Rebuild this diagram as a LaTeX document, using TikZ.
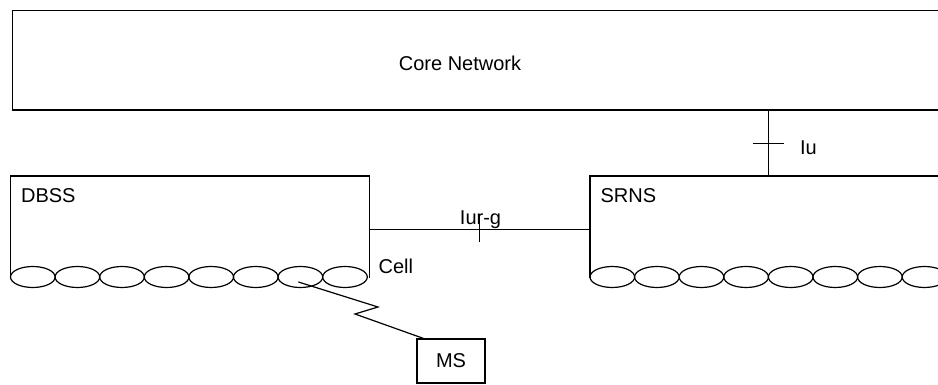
\documentclass[tikz,border=0pt]{standalone}
\usepackage{fontspec}
\setmainfont{Liberation Sans}
\usetikzlibrary{shapes.geometric}

\begin{document}
\begin{tikzpicture}[x = 0.5pt, y = -0.5pt, line width = 0.6pt,
	netbox/.style = {rectangle, inner sep = 0pt, anchor = north west},
	cell/.style = {draw, ellipse, inner sep = 0pt, minimum width = 22.3pt, minimum height = 10.5pt},
	lbl/.style = {inner sep = 0pt, font = \fontsize{10}{12}\selectfont}]

	% Definitions

	\def\cellw{44.6}		% Width of one cell ellipse (picture units)
	\def\celly{277}		% Height at which the cells sit

	\useasboundingbox (0, 0) rectangle (938, 385);
	\clip (0, 0) rectangle (938, 385);


	% Network boxes

	\node [netbox, draw, minimum width = 480pt, minimum height = 49.75pt] (core) at (12, 10) {};
	\node [lbl, anchor = base] (corelbl) at (460, 70.5) {Core Network};

	\node [netbox, minimum width = 178.75pt, minimum height = 50.5pt] (dbss) at (10.5, 176) {};
	\draw (dbss.south west) |- (dbss.north east) -- (dbss.south east);
	\node [lbl, anchor = base west] (dbsslbl) at (20.5, 202.7) {DBSS};

	\node [netbox, minimum width = 190pt, minimum height = 50.5pt] (srns) at (590, 176) {};
	\draw (srns.south east) |- (srns.north west) -- (srns.south west);
	\node [lbl, anchor = base west] (srnslbl) at (600, 202.7) {SRNS};


	% Cells

	\foreach \i in {1, 2, ..., 8}
	{
		\node [cell] (d\i) at ({10.5 + \cellw * (\i - 0.5)}, \celly) {};
		\node [cell] (s\i) at ({590 + \cellw * (\i - 0.5)}, \celly) {};
	}
	\node [lbl, anchor = base west] (celllbl) at (378, 273.3) {Cell};


	% Interfaces, with their ticks

	\coordinate (iu) at (768.7, 0);
	\draw (core.south -| iu) -- (srns.north -| iu) coordinate [midway] (iumid);
	\draw ([xshift = -7.75pt] iumid) -- ([xshift = 7.75pt] iumid);
	\node [lbl, anchor = base west] (iulbl) at (799.5, 155) {Iu};

	\coordinate (iur) at (0, 229.5);
	\draw (dbss.east |- iur) -- (srns.west |- iur) coordinate [midway] (iurmid);
	\draw ([yshift = 7.75pt] iurmid) -- ([yshift = -6.25pt] iurmid);
	\node [lbl, anchor = base] (iurlbl) at (480.5, 224.3) {Iur-g};


	% Mobile station and radio link

	\node [lbl, draw, rectangle, minimum width = 34pt, minimum height = 22pt] (ms) at (451, 361) {MS};

	\coordinate (zigA) at (378, 307);
	\coordinate (zigB) at (355, 314);
	\draw ([xshift = -1pt, yshift = -2.5pt] d7.center) -- (zigA) -- (zigB) -- ([xshift = 3.5pt] ms.north west);

\end{tikzpicture}
\end{document}
